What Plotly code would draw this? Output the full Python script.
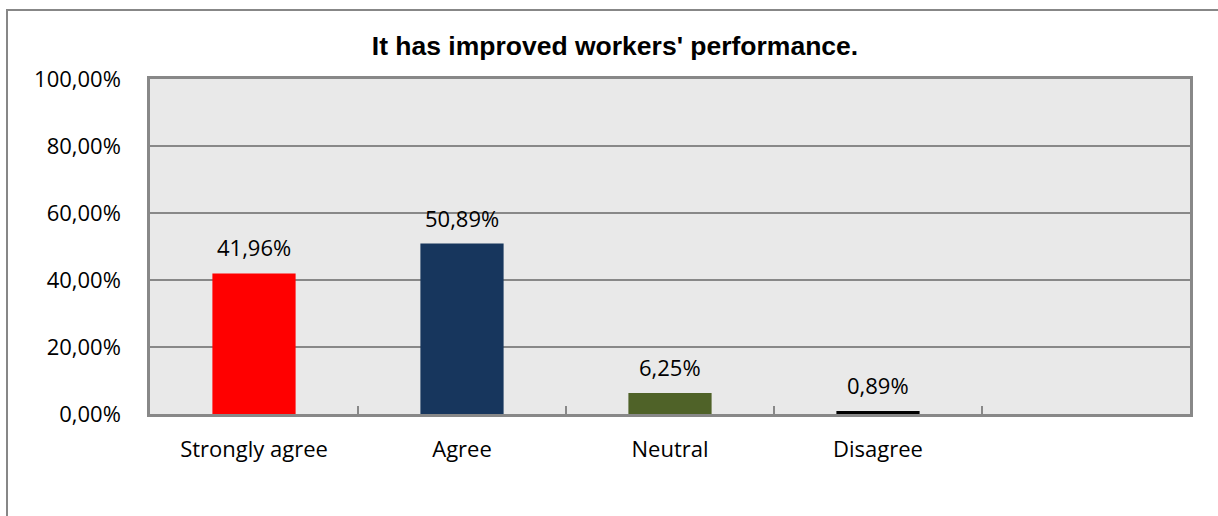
import plotly.graph_objects as go

categories = ["Strongly agree", "Agree", "Neutral", "Disagree"]
values = [41.96, 50.89, 6.25, 0.89]
bar_colors = ["#FF0000", "#17365D", "#4F6228", "#000000"]
y_ticks = [0, 20, 40, 60, 80, 100]
y_tick_labels = ["0,00%", "20,00%", "40,00%", "60,00%", "80,00%", "100,00%"]
title_text = "It has improved workers' performance."

W, H = 1218, 516
L, T = 150, 79
R = W - 1190
B = H - 414
pw, ph = W - L - R, H - T - B

body_font = "Open Sans, Lato, sans-serif"

fig = go.Figure()
fig.add_trace(go.Bar(
    x=categories, y=values, width=0.4,
    marker=dict(color=bar_colors, line=dict(width=0)),
    hoverinfo="skip",
))

for c, v in zip(categories, values):
    fig.add_annotation(
        x=c, y=v, xref="x", yref="y",
        text=f"{v:.2f}%".replace(".", ","),
        showarrow=False, yanchor="bottom", yshift=9,
        font=dict(family=body_font, size=22, color="#000000"),
    )

# outer chart frame (top and left edges visible)
fig.add_shape(
    type="rect", xref="paper", yref="paper",
    x0=(7 - L) / pw, x1=(W + 30 - L) / pw,
    y0=-(H + 30 - T - ph) / ph, y1=(H - B - 10) / ph,
    line=dict(color="#878787", width=2), fillcolor="rgba(0,0,0,0)", layer="below",
)

fig.update_layout(
    width=W, height=H,
    margin=dict(l=L, r=R, t=T, b=B, pad=0),
    paper_bgcolor="#FFFFFF",
    plot_bgcolor="#E9E9E9",
    showlegend=False,
    title=dict(
        text=title_text, x=615 / W, xanchor="center", xref="container",
        y=1 - 46 / H, yanchor="middle",
        font=dict(family="Liberation Sans, Arial, sans-serif", size=26.5, color="#000000",
                  weight="bold"),
    ),
    xaxis=dict(
        type="category", categoryorder="array", categoryarray=categories,
        range=[-0.5, 4.5],
        tickson="boundaries", ticks="inside", ticklen=8, tickwidth=1.5, tickcolor="#888888",
        showgrid=False, zeroline=False,
        showline=True, linecolor="#888888", linewidth=2.5, mirror=True,
        tickfont=dict(family=body_font, size=22, color="#000000"),
        ticklabelstandoff=14,
    ),
    yaxis=dict(
        range=[0, 100], tickvals=y_ticks, ticktext=y_tick_labels,
        ticks="", showgrid=True, gridcolor="#888888", gridwidth=1.5,
        zeroline=False,
        showline=True, linecolor="#888888", linewidth=2.5, mirror=True,
        tickfont=dict(family=body_font, size=22, color="#000000"),
        ticklabelstandoff=22,
    ),
)

fig.write_html(
    "out.html",
    config={"displayModeBar": False},
    post_script="document.body.style.margin='0px';document.body.style.overflow='hidden';",
)
